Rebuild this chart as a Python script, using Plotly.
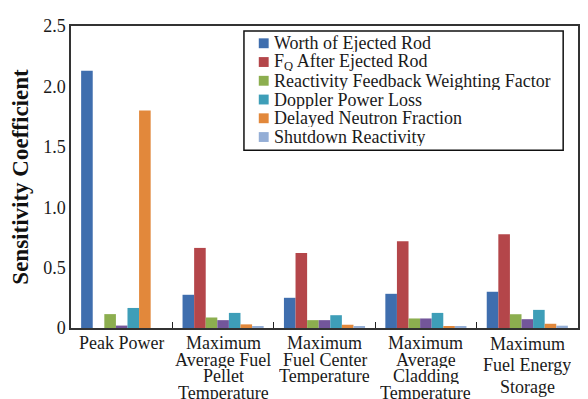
import plotly.graph_objects as go

categories = ["Peak Power", "Maximum Average Fuel Pellet Temperature",
              "Maximum Fuel Center Temperature", "Maximum Average Cladding Temperature",
              "Maximum Fuel Energy Storage"]
category_lines = [["Peak Power"],
                  ["Maximum", "Average Fuel", "Pellet", "Temperature"],
                  ["Maximum", "Fuel Center", "Temperature"],
                  ["Maximum", "Average", "Cladding", "Temperature"],
                  ["Maximum", "Fuel Energy", "Storage"]]

worth_ejected_rod = [2.13, 0.275, 0.25, 0.283, 0.30]
fq_after_ejected_rod = [0.0, 0.663, 0.62, 0.718, 0.777]
reactivity_feedback = [0.115, 0.087, 0.065, 0.079, 0.114]
unlabeled_series = [0.02, 0.065, 0.065, 0.079, 0.073]
doppler_power_loss = [0.166, 0.125, 0.106, 0.125, 0.15]
delayed_neutron = [1.80, 0.03, 0.027, 0.016, 0.035]
shutdown_reactivity = [0.0, 0.014, 0.014, 0.014, 0.019]

y_tickvals = [0, 0.5, 1.0, 1.5, 2.0, 2.5]
y_ticktext = ["0", "0.5", "1.0", "1.5", "2.0", "2.5"]

series = [
    ("Worth of Ejected Rod", worth_ejected_rod, "#3F6EAE", True),
    ("F<sub>Q</sub> After Ejected Rod", fq_after_ejected_rod, "#B4464A", True),
    ("Reactivity Feedback Weighting Factor", reactivity_feedback, "#8CAE4F", True),
    ("Unlabeled", unlabeled_series, "#73569A", False),
    ("Doppler Power Loss", doppler_power_loss, "#3E9EB8", True),
    ("Delayed Neutron Fraction", delayed_neutron, "#E2883B", True),
    ("Shutdown Reactivity", shutdown_reactivity, "#94AED6", True),
]

FONT = "Liberation Serif"
TXT = "#1a1a1a"

# The page body has an 8px margin, so the figure is made 8px smaller
OFF = 8
W, H = 580, 391
ML, MR, MT, MB = 59, 8, 14, 71
PW, PH = W - ML - MR, H - MT - MB
PLOT_LEFT = OFF + ML          # 67 px on screen
PLOT_BOTTOM = OFF + H - MB    # 328 px on screen


def px(xp):
    return (xp - PLOT_LEFT) / PW


def py(yp):
    return (PLOT_BOTTOM - yp) / PH


fig = go.Figure()
for name, vals, color, show in series:
    fig.add_trace(go.Bar(x=categories, y=vals, name=name, marker_color=color,
                         marker_line_width=0, showlegend=False))

# category labels, line by line (tight line spacing as in the reference)
line_gap = [16.5, 16.5, 16.5, 16.5, 21.5]
for cat, lines, gap in zip(categories, category_lines, line_gap):
    for i, ln in enumerate(lines):
        fig.add_annotation(x=cat, y=0, xref="x", yref="y", text=ln, showarrow=False,
                           yanchor="middle", xanchor="center", height=gap - 0.5,
                           yshift=-(15 + i * gap),
                           font=dict(family=FONT, size=18, color=TXT))

# legend box
fig.add_shape(type="rect", xref="paper", yref="paper",
              x0=px(242), x1=px(565), y0=py(148), y1=py(27),
              line=dict(color="#111", width=1.5), fillcolor="white", layer="above")
row_y = [39.5, 58.5, 77.5, 96.5, 115.5, 134.5]
legend_items = [s for s in series if s[3]]
for (name, vals, color, show), ry in zip(legend_items, row_y):
    fig.add_shape(type="rect", xref="paper", yref="paper",
                  x0=px(257), x1=px(267), y0=py(ry + 5), y1=py(ry - 5),
                  line=dict(width=0), fillcolor=color, layer="above")
    fig.add_annotation(x=px(270), y=py(ry), xref="paper", yref="paper", text=name,
                       showarrow=False, xanchor="left", yanchor="middle", height=18,
                       font=dict(family=FONT, size=18, color=TXT))

fig.update_layout(
    width=W, height=H,
    margin=dict(l=ML, r=MR, t=MT, b=MB),
    paper_bgcolor="white", plot_bgcolor="white",
    barmode="group", bargap=0.2, bargroupgap=0,
    font=dict(family=FONT, size=18, color=TXT),
    showlegend=False,
)
fig.update_xaxes(showticklabels=False, tickson="boundaries", ticks="inside",
                 ticklen=6, tickcolor="#222", showline=True, linecolor="#333",
                 linewidth=1.5, mirror=True, showgrid=False)
fig.update_yaxes(range=[0, 2.5], tickvals=y_tickvals, ticktext=y_ticktext,
                 showline=True, linecolor="#333", linewidth=1.5, mirror=True,
                 showgrid=False, zeroline=False, ticks="",
                 tickfont=dict(family=FONT, size=18, color=TXT),
                 title=dict(text="<b>Sensitivity Coefficient</b>", standoff=11,
                            font=dict(family=FONT, size=23, color="#111")))

fig.write_html("out.html")
